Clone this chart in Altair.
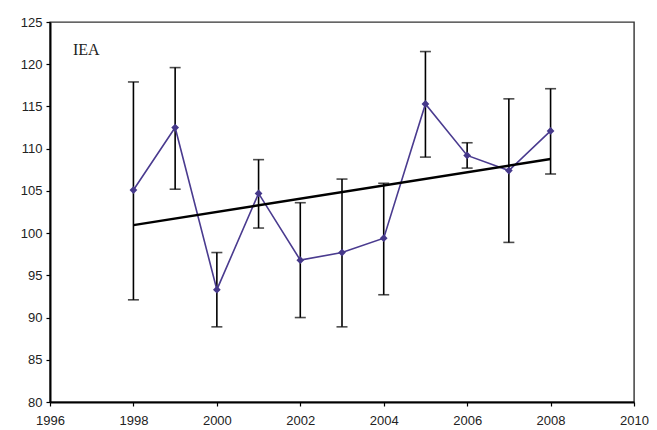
import altair as alt
import pandas as pd

years = [1998, 1999, 2000, 2001, 2002, 2003, 2004, 2005, 2006, 2007, 2008]
values = [105.1, 112.5, 93.3, 104.7, 96.8, 97.7, 99.4, 115.3, 109.2, 107.4, 112.1]
upper = [117.9, 119.6, 97.7, 108.7, 103.6, 106.4, 105.9, 121.5, 110.7, 115.9, 117.1]
lower = [92.1, 105.2, 88.9, 100.6, 90.0, 88.9, 92.7, 109.0, 107.7, 98.9, 107.0]
x_ticks = [1996, 1998, 2000, 2002, 2004, 2006, 2008, 2010]
y_ticks = [80, 85, 90, 95, 100, 105, 110, 115, 120, 125]

df = pd.DataFrame({"year": years, "value": values, "upper": upper, "lower": lower})

xs = alt.Scale(domain=[1996, 2010], nice=False, zero=False)
ys = alt.Scale(domain=[80, 125], nice=False, zero=False)

x_axis = alt.Axis(values=x_ticks, format="d", title=None, grid=False, labelPadding=8,
                  labelFlush=False, labelOverlap=False, labelBound=False)
y_axis = alt.Axis(values=y_ticks, title=None, grid=False, labelPadding=4,
                  labelFlush=False, labelOverlap=False)

base = alt.Chart(df)

bars = base.mark_rule(color="black", strokeWidth=1.6).encode(
    x=alt.X("year:Q", scale=xs, axis=x_axis),
    y=alt.Y("lower:Q", scale=ys, axis=y_axis),
    y2="upper:Q",
)
cap_top = base.mark_tick(color="black", orient="horizontal", size=11, thickness=1.6).encode(
    x=alt.X("year:Q", scale=xs), y=alt.Y("upper:Q", scale=ys)
)
cap_bot = base.mark_tick(color="black", orient="horizontal", size=11, thickness=1.6).encode(
    x=alt.X("year:Q", scale=xs), y=alt.Y("lower:Q", scale=ys)
)
line = base.mark_line(color="#4a3b8f", strokeWidth=1.6).encode(
    x=alt.X("year:Q", scale=xs), y=alt.Y("value:Q", scale=ys)
)
pts = base.mark_point(shape="diamond", filled=True, color="#45388a", size=60, opacity=1).encode(
    x=alt.X("year:Q", scale=xs), y=alt.Y("value:Q", scale=ys)
)
trend = base.transform_regression("year", "value", method="linear").mark_line(
    color="black", strokeWidth=2.4
).encode(x=alt.X("year:Q", scale=xs), y=alt.Y("value:Q", scale=ys))

label = alt.Chart(pd.DataFrame({"t": ["IEA"]})).mark_text(
    font="Liberation Serif", fontSize=16, align="left", baseline="middle", color="#222"
).encode(text="t:N", x=alt.value(23), y=alt.value(28))

chart = alt.layer(bars, cap_top, cap_bot, line, pts, trend, label).properties(
    width=584,
    height=380,
    autosize=alt.AutoSizeParams(type="none"),
    padding={"left": 42, "top": 14, "right": 15, "bottom": 28},
).configure_view(
    stroke="#333", strokeWidth=1.4
).configure_axis(
    domainColor="black", domainWidth=2, tickColor="black", tickSize=4, tickWidth=1.2,
    labelFont="Liberation Sans", labelFontSize=13, labelColor="#222",
)

chart.save("out.html", embed_options={"renderer": "svg", "actions": False})
